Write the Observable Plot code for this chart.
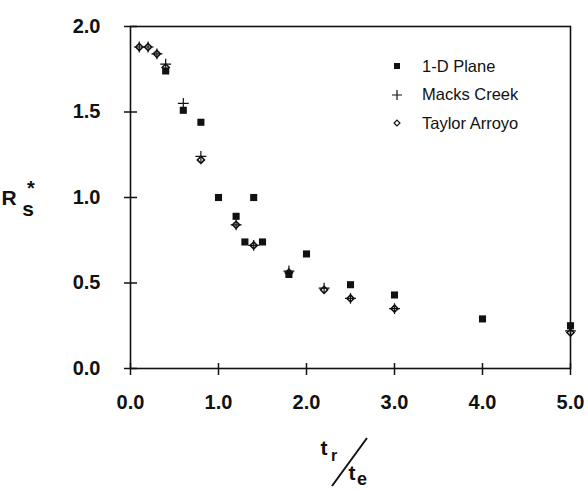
<!DOCTYPE html>
<html>
<head>
<meta charset="utf-8">
<script src="https://cdn.jsdelivr.net/npm/d3@7"></script>
<script src="https://cdn.jsdelivr.net/npm/@observablehq/plot@0.6"></script>
<style>
  body { margin: 0; background: #fff; }
  #wrap { position: relative; width: 588px; height: 491px; font-family: "Liberation Sans", Arial, sans-serif; }
  #legend { position: absolute; left: 388px; top: 52px; font-size: 16.5px; color: #111; }
  .row { display: flex; align-items: center; height: 28.5px; }
  .row svg { width: 18px; height: 18px; margin-right: 16px; }
</style>
</head>
<body>
<div id="wrap"></div>
<script>
// ---- data ----
const seriesNames = ["1-D Plane", "Macks Creek", "Taylor Arroyo"];
const planeX = [0.4, 0.6, 0.8, 1.0, 1.2, 1.3, 1.4, 1.5, 1.8, 2.0, 2.5, 3.0, 4.0, 5.0];
const planeY = [1.74, 1.51, 1.44, 1.00, 0.89, 0.74, 1.00, 0.74, 0.55, 0.67, 0.49, 0.43, 0.29, 0.25];
const macksX = [0.1, 0.2, 0.3, 0.4, 0.6, 0.8, 1.2, 1.4, 1.8, 2.2, 2.5, 3.0, 5.0];
const macksY = [1.88, 1.88, 1.84, 1.78, 1.55, 1.24, 0.84, 0.72, 0.57, 0.47, 0.41, 0.35, 0.22];
const taylorX = [0.1, 0.2, 0.3, 0.4, 0.8, 1.2, 1.4, 1.8, 2.2, 2.5, 3.0, 5.0];
const taylorY = [1.88, 1.88, 1.84, 1.76, 1.22, 0.84, 0.72, 0.56, 0.46, 0.41, 0.35, 0.21];
const xTicks = [0, 1, 2, 3, 4, 5];
const yTicks = [0, 0.5, 1.0, 1.5, 2.0];

const plane = planeX.map((x, i) => ({x, y: planeY[i]}));
const macks = macksX.map((x, i) => ({x, y: macksY[i]}));
const taylor = taylorX.map((x, i) => ({x, y: taylorY[i]}));

const W = 588, H = 491, mL = 130, mR = 18, mT = 26, mB = 123;
const innerW = W - mL - mR, innerH = H - mT - mB;

const chart = Plot.plot({
  width: W,
  height: H,
  marginLeft: mL,
  marginRight: mR,
  marginTop: mT,
  marginBottom: mB,
  style: {background: "#fff", color: "#111", fontFamily: "'Liberation Sans', Arial, sans-serif"},
  x: {domain: [0, 5]},
  y: {domain: [0, 2]},
  marks: [
    Plot.frame({stroke: "#111", strokeWidth: 1.6}),
    // tick marks crossing the axes
    Plot.tickX(xTicks, {x: d => d, stroke: "#111", strokeWidth: 1.5, insetTop: innerH - 5, insetBottom: -7}),
    Plot.tickY(yTicks, {y: d => d, stroke: "#111", strokeWidth: 1.5, insetLeft: -6, insetRight: innerW - 7}),
    // tick labels
    Plot.axisX({ticks: xTicks, tickSize: 0, tickPadding: 26, tickFormat: d3.format(".1f"),
      fontSize: 20, fontWeight: "bold", label: null}),
    Plot.axisY({ticks: yTicks, tickSize: 0, tickPadding: 30, tickFormat: d3.format(".1f"),
      fontSize: 20, fontWeight: "bold", label: null}),
    Plot.dot(plane, {x: "x", y: "y", symbol: "square", r: 4, fill: "#111", stroke: "none"}),
    Plot.dot(taylor, {x: "x", y: "y", symbol: "diamond2", r: 3.2, stroke: "#111", strokeWidth: 1.6, fill: "none"}),
    Plot.dot(macks, {x: "x", y: "y", symbol: "plus", r: 3.6, stroke: "#111", strokeWidth: 1.2})
  ]
});

const wrap = document.getElementById("wrap");
wrap.appendChild(chart);

// axis titles as real text
const svg = d3.select(chart);
const ylab = svg.append("text").attr("font-family", "'Liberation Sans', Arial, sans-serif")
  .attr("font-weight", "bold").attr("fill", "#111");
ylab.append("tspan").attr("x", 9).attr("y", 205).attr("font-size", 21).text("R");
ylab.append("tspan").attr("x", 31).attr("y", 195).attr("font-size", 20).text("*");
ylab.append("tspan").attr("x", 28).attr("y", 216).attr("font-size", 21).text("s");

const xlab = svg.append("g").attr("font-family", "'Liberation Sans', Arial, sans-serif")
  .attr("font-weight", "bold").attr("fill", "#111");
xlab.append("text").attr("x", 324).attr("y", 455).attr("font-size", 21).text("t");
xlab.append("text").attr("x", 334).attr("y", 461).attr("font-size", 16).text("r");
xlab.append("line").attr("x1", 367).attr("y1", 438).attr("x2", 332).attr("y2", 486)
  .attr("stroke", "#111").attr("stroke-width", 2);
xlab.append("text").attr("x", 352).attr("y", 480).attr("font-size", 21).text("t");
xlab.append("text").attr("x", 362).attr("y", 485).attr("font-size", 18).text("e");

// legend
const legend = document.createElement("div");
legend.id = "legend";
const syms = [
  '<path d="' + d3.symbol(d3.symbolSquare, 36)() + '" transform="translate(9,9)" fill="#111"/>',
  '<path d="M9,4V14M4,9H14" stroke="#111" stroke-width="1.2" fill="none"/>',
  '<path d="' + d3.symbol(d3.symbolDiamond2, 22)() + '" transform="translate(9,9)" fill="none" stroke="#111" stroke-width="1.2"/>'
];
seriesNames.forEach((name, i) => {
  const row = document.createElement("div");
  row.className = "row";
  row.innerHTML = '<svg viewBox="0 0 18 18">' + syms[i] + '</svg><span>' + name + '</span>';
  legend.appendChild(row);
});
wrap.appendChild(legend);
</script>
</body>
</html>
